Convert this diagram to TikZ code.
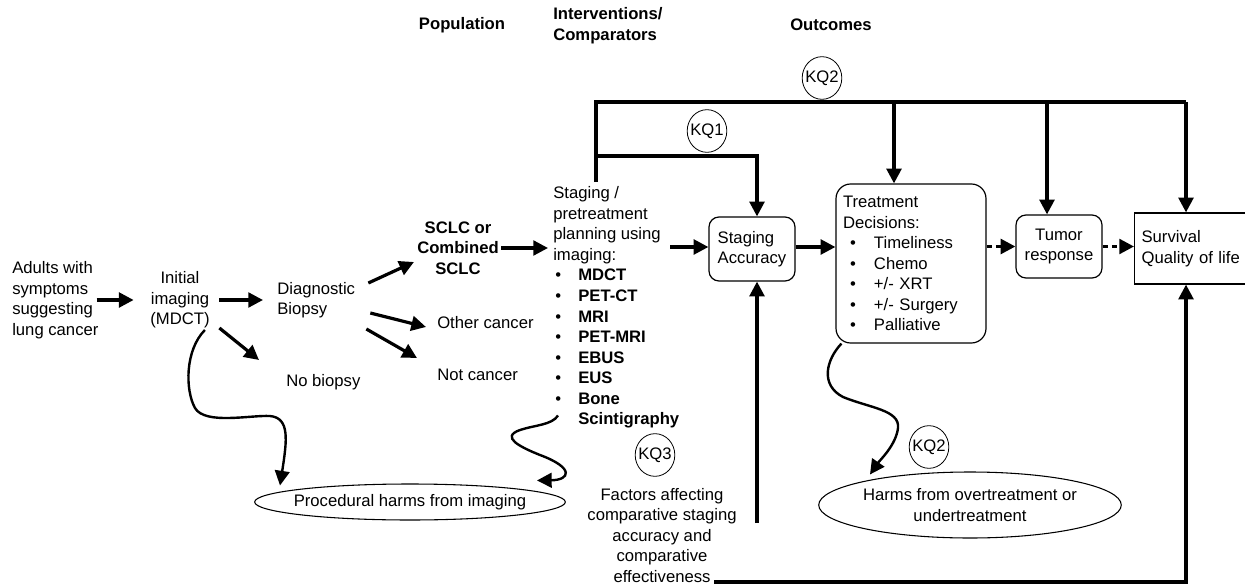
\documentclass[tikz,border=0pt]{standalone}
\usepackage{fontspec}
\setmainfont{Liberation Sans}
\usetikzlibrary{positioning}
\usetikzlibrary{shapes.geometric}
\usetikzlibrary{arrows.meta}
\usetikzlibrary{calc}
\tikzset{>={Triangle[length=11pt,width=11pt]}}
\tikzset{txt/.style={inner sep=0pt, align=center}}
\tikzset{rbox/.style={draw, rounded corners=7.5pt, line width=0.9pt, inner sep=0pt}}
\tikzset{kq/.style={draw, ellipse, line width=0.6pt, inner xsep=-2pt, inner ysep=0pt, minimum height=32pt}}
\tikzset{harm/.style={draw, ellipse, line width=0.8pt, inner sep=0pt}}
\tikzset{arr/.style={->, line width=2.4pt}}
\tikzset{wig/.style={->, line width=1.8pt}}
\newcommand{\itm}[1]{\makebox[18.75pt][l]{\hspace{1.5pt}\textbullet}\textbf{#1}}
\newcommand{\titm}[1]{\makebox[23.25pt][l]{\hspace{5.3pt}\textbullet}#1}

\begin{document}
\fontsize{12.5}{15.4}\selectfont
\begin{tikzpicture}[x=0.75pt,y=-0.75pt]
\useasboundingbox (0,0) rectangle (1245,585);

% column heads
\node[txt,font=\bfseries] (pop) at (462,25) {Population};
\node[txt,font=\bfseries,align=left,anchor=west] (intv) at (553,25.5) {Interventions/\\Comparators};
\node[txt,font=\bfseries] (outc) at (831,25) {Outcomes};

% population side
\node[txt,align=left,anchor=west] (adults) at (12,300) {Adults with\\symptoms\\suggesting\\lung cancer};
\node[txt] (init) at (180,300) {Initial\\imaging\\(MDCT)};
\node[txt,align=left,anchor=west] (biopsy) at (277,300) {Diagnostic\\Biopsy};
\node[txt,anchor=west] (nobiop) at (286,382) {No biopsy};
\node[txt,font=\bfseries] (sclc) at (458,248) {SCLC or\\Combined\\SCLC};
\node[txt,anchor=west] (other) at (437,323) {Other cancer};
\node[txt,anchor=west] (notc) at (437,375) {Not cancer};
\node[txt,align=left,anchor=west] (stg) at (553,307.5) {Staging /\\pretreatment\\planning using\\imaging:\\\itm{MDCT}\\\itm{PET-CT}\\\itm{MRI}\\\itm{PET-MRI}\\\itm{EBUS}\\\itm{EUS}\\\itm{Bone}\\\makebox[18.75pt]{}\textbf{Scintigraphy}};

% outcomes
\node[rbox,minimum width=64.5pt,minimum height=48pt,align=left] (acc) at (752,249) {Staging\\Accuracy};
\node[rbox,rounded corners=11pt,minimum height=119.25pt,text width=102pt,inner xsep=5.25pt,align=left] (treat) at (911,263.5) {Treatment\\Decisions:\\\titm{Timeliness}\\\titm{Chemo}\\\titm{+/- XRT}\\\titm{+/- Surgery}\\\titm{Palliative}};
\node[rbox,minimum width=64.5pt,minimum height=47.25pt,align=center] (tumor) at (1059,246.5) {Tumor\\response};
\node[draw,line width=0.9pt,anchor=west,text width=76pt,inner xsep=5.25pt,inner ysep=0pt,minimum height=53.25pt,align=left] (surv) at (1134,248.5) {Survival\\Quality of life};

\node[kq] (kqa) at (822,78) {KQ2};
\node[kq] (kqb) at (707,131) {KQ1};
\node[kq] (kqc) at (655,455) {KQ3};
\node[kq] (kqd) at (929,447) {KQ2};

\node[harm,inner xsep=-4.8pt,minimum height=27pt] (harms1) at (410,502) {Procedural harms from imaging};
\node[harm,align=center,minimum width=226.5pt,minimum height=49.5pt] (harms2) at (970,505) {Harms from overtreatment or\\undertreatment};
\node[txt] (fac) at (662,535.5) {Factors affecting\\comparative staging\\accuracy and\\comparative\\effectiveness};

% flow
\draw[arr] ($(adults.east)+(-2,0)$) -- ($(init.west)+(-16.5,0)$);
\draw[arr] ($(init.east)+(9.5,0)$) -- ($(biopsy.west)+(-14,0)$);
\draw[arr] ($(init.east)+(9.5,28)$) -- ($(nobiop.west)+(-27,-22)$);
\draw[arr] ($(biopsy.east)+(13,-17)$) -- ($(sclc.west)+(-3,14)$);
\draw[arr] ($(biopsy.east)+(15,13)$) -- ($(other.west)+(-11,4)$);
\draw[arr] ($(biopsy.east)+(11,29)$) -- ($(notc.west)+(-20,-17)$);
\draw[arr] ($(sclc.east)+(2,0)$) -- ($(sclc.east -| stg.west)+(-5,0)$);
\draw[arr] ($(acc.west)+(-38,-2)$) -- ($(acc.west)+(0,-2)$);
\draw[arr] ($(acc.east)+(0,-2)$) -- ($(acc.east -| treat.west)+(0,-2)$);
\draw[arr,dash pattern=on 4pt off 3pt] (treat.east |- tumor.west) -- (tumor.west);
\draw[arr,dash pattern=on 4pt off 3pt] (tumor.east) -- (tumor.east -| surv.west);

% key question lines
\coordinate (bar) at (596,182);
\coordinate (top) at (596,102);
\coordinate (topr) at (1186,102);
\coordinate (kqbar) at (596,156);
\coordinate (dropt) at ($(treat.north)+(-17,0)$);
\coordinate (dropr) at ($(tumor.north)+(-12,0)$);
\coordinate (dropa) at ($(acc.north)+(5,0)$);
\coordinate (upa) at ($(acc.south)+(5,0)$);
\coordinate (facup) at (757,523);
\coordinate (facend) at (714,582);
\coordinate (botr) at (1186,582);

\draw[line width=2.4pt] (bar) -- (top) -- (topr);
\draw[arr] (topr) -- (topr |- surv.north);
\draw[arr] (top -| dropt) -- (dropt);
\draw[arr] (top -| dropr) -- (dropr);
\draw[arr] (kqbar) -| (dropa);
\draw[arr] (facup) -- (upa);
\draw[arr] (facend) -- (botr) -- (botr |- surv.south);

% harms
\draw[wig] ($(init.east)+(-5,30)$) .. controls (185,350) and (185,390) .. (195,408)
  .. controls (205,425) and (250,415) .. (270,416)
  .. controls (290,418) and (287,440) .. ($(harms1.north)+(-130,2)$);
\draw[wig] ($(stg.west)+(5,108)$) .. controls (552,425) and (535,425) .. (520,430)
  .. controls (500,437) and (520,447) .. (540,455)
  .. controls (575,468) and (570,480) .. ($(harms1.north)+(127,-3)$);
\draw[wig] ($(treat.south west)+(6,0)$) .. controls (826,360) and (820,385) .. (843,397)
  .. controls (870,408) and (900,410) .. (898,428)
  .. controls (896,445) and (880,460) .. ($(harms2.north)+(-100,3)$);
\end{tikzpicture}
\end{document}
